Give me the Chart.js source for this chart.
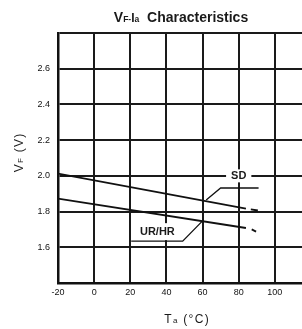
<!DOCTYPE html>
<html><head><meta charset="utf-8">
<script src="https://cdn.jsdelivr.net/npm/chart.js@4.4.1/dist/chart.umd.min.js"></script>
<style>html,body{margin:0;padding:0;background:#fff;overflow:hidden;width:302px;height:329px}canvas{display:block}</style>
</head><body><canvas id="c" width="320" height="329"></canvas>
<script>
// ---- tick labels ----
const xTickValues = [-20, 0, 20, 40, 60, 80, 100, 120];
const xTickLabels = ['-20', '0', '20', '40', '60', '80', '100', ''];
const yTickValues = [1.4, 1.6, 1.8, 2.0, 2.2, 2.4, 2.6, 2.8];
const yTickLabels = ['', '1.6', '1.8', '2.0', '2.2', '2.4', '2.6', ''];

// ---- series (Ta in °C, VF in V) ----
const sdTemp = [-20, 84];
const sdVf = [2.013, 1.816];
const sdDashTemp = [86.7, 90.6];
const sdDashVf = [1.812, 1.806];
const urTemp = [-20, 84];
const urVf = [1.873, 1.708];
const urDashTemp = [87.2, 89.6];
const urDashVf = [1.700, 1.688];

// ---- leader lines for the labels ----
const sdLeaderTemp = [62, 70, 91];
const sdLeaderVf = [1.865, 1.932, 1.932];
const urLeaderTemp = [60, 49, 20.5];
const urLeaderVf = [1.748, 1.634, 1.634];

// ---- curve labels ----
const curveLabels = ['SD', 'UR/HR'];
const curveLabelTemp = [80, 35];
const curveLabelVf = [2.0, 1.6875];

// ---- texts ----
const titleParts = ['V', 'F', '-', 'I', 'a', '  Characteristics'];
const yTitleParts = ['V', 'F', ' (V)'];
const xTitleParts = ['T', 'a', ' (\u00B0C)'];

const FONT = '"Liberation Sans", Arial, sans-serif';
const zip = (xs, ys) => xs.map((x, i) => ({x, y: ys[i]}));
const lineDs = (xs, ys, w) => ({
  data: zip(xs, ys), showLine: true, borderColor: '#111', borderWidth: w,
  pointRadius: 0, fill: false, tension: 0
});

function labelFor(values, labels, v) {
  for (let i = 0; i < values.length; i++) if (Math.abs(values[i] - v) < 1e-6) return labels[i];
  return '';
}

function rich(ctx, segs, cx, cy, weight, spacing, rotate, mainSize) {
  ctx.save();
  ctx.translate(cx, cy);
  if (rotate) ctx.rotate(-Math.PI / 2);
  ctx.fillStyle = '#1a1a1a';
  ctx.textBaseline = 'alphabetic';
  ctx.textAlign = 'left';
  let total = 0;
  const items = [];
  segs.forEach(s => {
    ctx.font = `${weight} ${s.s}px ${FONT}`;
    for (const ch of s.t) {
      const w = ctx.measureText(ch).width;
      items.push({ch, s: s.s, w});
      total += w + spacing;
    }
  });
  total -= spacing;
  let x = -total / 2;
  const base = mainSize * 0.36;
  items.forEach(it => {
    ctx.font = `${weight} ${it.s}px ${FONT}`;
    ctx.fillText(it.ch, x, base);
    x += it.w + spacing;
  });
  ctx.restore();
}

const decor = {
  id: 'decor',
  beforeDatasetsDraw(chart) {
    const {ctx, scales: {x, y}} = chart;
    ctx.save();
    ctx.fillStyle = '#fff';
    ctx.font = `bold 11px ${FONT}`;
    curveLabels.forEach((t, i) => {
      const px = x.getPixelForValue(curveLabelTemp[i]);
      const py = y.getPixelForValue(curveLabelVf[i]);
      const w = ctx.measureText(t).width + 10;
      const h = i === 0 ? 13 : 17;
      ctx.fillRect(px - w / 2, py - h / 2, w, h);
    });
    ctx.restore();
  },
  afterDatasetsDraw(chart) {
    const {ctx, scales: {x, y}} = chart;
    ctx.save();
    ctx.fillStyle = '#1a1a1a';
    ctx.font = `bold 11px ${FONT}`;
    ctx.textAlign = 'center';
    ctx.textBaseline = 'middle';
    curveLabels.forEach((t, i) => {
      ctx.fillText(t, x.getPixelForValue(curveLabelTemp[i]), y.getPixelForValue(curveLabelVf[i]) + 0.5);
    });
    ctx.restore();
  },
  afterDraw(chart) {
    const {ctx} = chart;
    rich(ctx, [
      {t: titleParts[0], s: 14}, {t: titleParts[1], s: 8.5}, {t: titleParts[2], s: 8.5},
      {t: titleParts[3], s: 12}, {t: titleParts[4], s: 8.5}, {t: titleParts[5], s: 14}
    ], 181, 17, 'bold', 0, false, 13);
    rich(ctx, [
      {t: yTitleParts[0], s: 12}, {t: yTitleParts[1], s: 8}, {t: yTitleParts[2], s: 12}
    ], 19, 153, 'normal', 1.3, true, 12);
    rich(ctx, [
      {t: xTitleParts[0], s: 12}, {t: xTitleParts[1], s: 8}, {t: xTitleParts[2], s: 12}
    ], 186.5, 319, 'normal', 1.3, false, 12);
  }
};

const tickFont = {family: FONT, size: 9};

new Chart(document.getElementById('c'), {
  type: 'scatter',
  data: {
    datasets: [
      lineDs(sdTemp, sdVf, 1.8),
      lineDs(sdDashTemp, sdDashVf, 1.8),
      lineDs(urTemp, urVf, 1.8),
      lineDs(urDashTemp, urDashVf, 1.8),
      lineDs(sdLeaderTemp, sdLeaderVf, 1.3),
      lineDs(urLeaderTemp, urLeaderVf, 1.3)
    ]
  },
  options: {
    responsive: false,
    devicePixelRatio: 1,
    animation: false,
    layout: {padding: {top: 33, right: 9, left: 0, bottom: 0}},
    plugins: {legend: {display: false}, tooltip: {enabled: false}, title: {display: false}},
    scales: {
      x: {
        type: 'linear', min: -20, max: 120,
        ticks: {stepSize: 20, autoSkip: false, maxRotation: 0, padding: 4, color: '#111', font: tickFont,
          callback: v => labelFor(xTickValues, xTickLabels, v)},
        grid: {color: '#1a1a1a', lineWidth: 2, drawTicks: false},
        border: {display: true, color: '#111', width: 2.5},
        afterFit(s) { s.height = 46; }
      },
      y: {
        type: 'linear', min: 1.4, max: 2.8,
        ticks: {stepSize: 0.2, autoSkip: false, padding: 8, color: '#111', font: tickFont,
          callback: v => labelFor(yTickValues, yTickLabels, v)},
        grid: {color: '#1a1a1a', lineWidth: 2, drawTicks: false},
        border: {display: true, color: '#111', width: 2.5},
        afterFit(s) { s.width = 58; }
      }
    }
  },
  plugins: [decor]
});
</script>
</body></html>
